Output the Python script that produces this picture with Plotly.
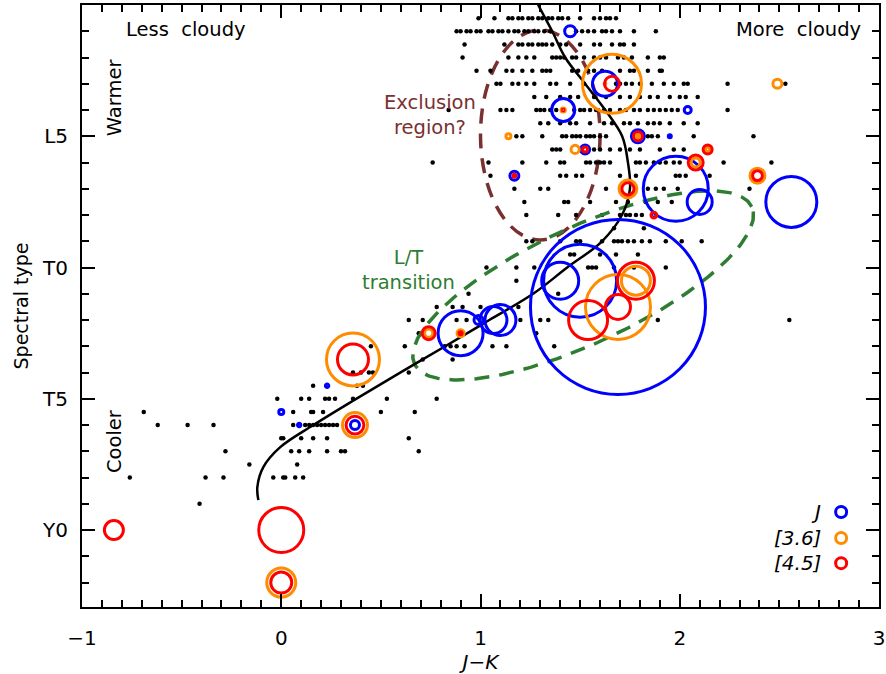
import numpy as np
import plotly.graph_objects as go

# ---------------- field brown dwarfs: J-K values per spectral-type row ----------------
# spectral type numbering: L0=0, L5=5, T0=10, T5=15, Y0=20
r00_5 = [0.99, 1.07, 1.14, 1.16, 1.19, 1.21, 1.24, 1.26, 1.29, 1.31, 1.34, 1.36, 1.39, 1.41, 1.44, 1.50, 1.57, 1.60, 1.63, 1.65, 1.68]
r01_0 = [0.88, 0.90, 0.93, 0.95, 0.98, 1.00, 1.04, 1.06, 1.09, 1.11, 1.14, 1.17, 1.19, 1.22, 1.24, 1.27, 1.29, 1.32, 1.35, 1.48, 1.51, 1.54, 1.57, 1.61, 1.63, 1.66, 1.70, 1.77, 1.88]
r01_5 = [0.92, 1.12, 1.19, 1.21, 1.24, 1.26, 1.29, 1.31, 1.33, 1.36, 1.40, 1.43, 1.50, 1.57, 1.60, 1.66, 1.70, 1.72, 1.77]
r02_0 = [0.91, 1.14, 1.19, 1.23, 1.27, 1.36, 1.38, 1.40, 1.42, 1.46, 1.48, 1.52, 1.57, 1.60, 1.63, 1.69, 1.72, 1.76, 1.84, 1.90, 1.92]
r02_5 = [0.98, 1.05, 1.13, 1.16, 1.21, 1.26, 1.31, 1.33, 1.35, 1.46, 1.49, 1.54, 1.57, 1.61, 1.70, 1.75, 1.77, 1.84, 1.90, 1.91]
r03_0 = [1.08, 1.10, 1.16, 1.19, 1.23, 1.27, 1.35, 1.38, 1.45, 1.52, 1.68, 1.70, 1.73, 1.76, 1.80, 1.86, 1.92, 1.97, 2.02, 2.04, 2.24, 2.53]
r03_5 = [1.27, 1.33, 1.40, 1.45, 1.49, 1.57, 1.63, 1.70, 1.75, 1.80, 1.85, 1.89, 1.95, 2.00, 2.03, 2.09]
r04_0 = [0.84, 1.10, 1.13, 1.16, 1.28, 1.30, 1.32, 1.35, 1.38, 1.47, 1.50, 1.52, 1.55, 1.58, 1.62, 1.65, 1.70, 1.73, 1.77, 1.80, 1.84, 1.87, 1.90, 1.93, 1.96, 1.99, 2.24]
r04_5 = [1.30, 1.34, 1.40, 1.45, 1.48, 1.55, 1.62, 1.66, 1.72, 1.75, 1.79, 1.84, 1.87, 1.90, 1.95, 2.02, 2.09]
r05_0 = [1.18, 1.21, 1.31, 1.41, 1.43, 1.46, 1.48, 1.50, 1.53, 1.55, 1.57, 1.60, 1.63, 1.84, 1.86, 1.89, 2.07, 2.37]
r05_5 = [1.36, 1.38, 1.40, 1.57, 1.60, 1.65, 1.70, 1.75, 1.80, 1.90, 1.97, 2.02]
r06_0 = [0.76, 1.04, 1.21, 1.33, 1.40, 1.42, 1.53, 1.55, 1.58, 1.60, 1.62, 1.65, 1.78, 1.80, 1.83, 1.87, 1.90, 1.93, 1.97, 2.00, 2.22, 2.46]
r06_5 = [1.05, 1.40, 1.43, 1.48, 1.51, 1.70, 1.78, 1.98, 2.00, 2.03, 2.15]
r07_0 = [1.17, 1.30, 1.34, 1.63, 1.84, 1.88, 1.92, 1.99, 2.35]
r07_5 = [1.22, 1.42, 1.44, 1.55, 1.68, 1.74, 1.83, 1.89, 1.96]
r08_0 = [1.23, 1.39, 1.48, 1.61, 1.70, 1.73, 1.75, 1.78, 1.81]
r08_5 = [1.67, 1.82]
r09_0 = [1.23, 1.26, 1.40, 1.48, 1.50, 1.61, 1.67, 1.69, 1.71, 1.74, 1.77, 1.81, 1.85, 1.93, 2.01, 2.11]
r09_5 = [1.45, 1.47, 1.60, 1.68, 1.79]
r10_0 = [1.03, 1.18, 1.27, 1.54, 1.56, 1.58, 1.67, 1.77, 1.93]
r10_5 = [1.18]
r11_0 = [0.94, 1.39]
r11_5 = [0.78, 0.86, 0.91, 1.00, 1.19]
r12_0 = [0.64, 0.71, 0.88, 0.93, 1.20, 1.30, 1.34, 1.89, 2.55]
r12_5 = [0.69, 1.28]
r13_0 = [0.45, 0.62, 0.82, 0.85, 0.88, 0.92, 1.06, 1.13, 1.37]
r13_5 = [0.71, 0.86]
r14_0 = [0.36, 0.40, 0.44, 0.46, 0.64]
r14_5 = [0.16, 0.38, 0.41]
r15_0 = [-0.02, 0.10, 0.14, 0.22, 0.24, 0.27, 0.36, 0.53, 0.78]
r15_5 = [-0.69, 0.06, 0.15, 0.16, 0.21, 0.50, 0.67]
r16_0 = [-0.62, -0.47, -0.34, 0.06, 0.12, 0.14, 0.16, 0.18, 0.20, 0.22, 0.24, 0.26, 0.28]
r16_5 = [0.00, 0.01, 0.10, 0.16, 0.23, 0.64]
r17_0 = [-0.28, 0.05, 0.09, 0.14, 0.23, 0.30, 0.32, 0.69]
r17_5 = [-0.16, 0.08]
r18_0 = [-0.76, -0.38, -0.29, -0.04, 0.01, 0.02, 0.07, 0.11]
r19_0 = [-0.41]

row_spt = [0.5, 1.0, 1.5, 2.0, 2.5, 3.0, 3.5, 4.0, 4.5, 5.0, 5.5, 6.0, 6.5, 7.0, 7.5, 8.0,
           8.5, 9.0, 9.5, 10.0, 10.5, 11.0, 11.5, 12.0, 12.5, 13.0, 13.5, 14.0, 14.5, 15.0,
           15.5, 16.0, 16.5, 17.0, 17.5, 18.0, 19.0]
row_jk = [r00_5, r01_0, r01_5, r02_0, r02_5, r03_0, r03_5, r04_0, r04_5, r05_0, r05_5, r06_0,
          r06_5, r07_0, r07_5, r08_0, r08_5, r09_0, r09_5, r10_0, r10_5, r11_0, r11_5, r12_0,
          r12_5, r13_0, r13_5, r14_0, r14_5, r15_0, r15_5, r16_0, r16_5, r17_0, r17_5, r18_0, r19_0]

# ---------------- variable objects (amplitudes in %, None = not measured) ----------------
obj_jk  = [1.45, 1.625, 1.66, 1.415, 1.14, 1.475, 1.525, 1.79, 1.95, 2.04, 2.49, 2.14, 2.08,
           1.98, 2.10, 2.39, 2.56, 1.74, 1.87, 1.17, 1.69, 1.50, 1.40, 1.78, 1.54, 1.10,
           1.065, 0.99, 0.90, 0.74, 0.36, 0.37, 0.23, 0.0, 0.09, -0.84, 0.0, 0.0]
obj_spt = [1.0, 3.0, 3.0, 4.0, 5.0, 5.5, 5.5, 5.0, 5.0, 4.0, 3.0, 5.5, 6.0,
           7.0, 7.5, 6.5, 7.5, 7.0, 8.0, 6.5, 11.5, 10.5, 10.5, 10.5, 12.0, 12.0,
           12.0, 12.0, 12.5, 12.5, 13.5, 16.0, 14.5, 15.5, 16.0, 20.0, 20.0, 22.0]
amp_J   = [1.75, 3.5, None, 3.25, None, None, 1.5, 2.0, 0.75, 1.25, None, None, None,
           8.5, 3.5, None, 6.75, None, 0.5, 1.5, 22.25, 9.5, 5.0, None, None, 4.25,
           3.75, 1.5, 6.0, None, None, 1.5, 0.8, 1.0, 0.8, None, None, None]
amp_36  = [None, 0.6, 7.75, 0.9, 1.0, 1.4, None, 0.75, None, None, 1.5, 0.9, 1.5,
           None, None, 2.25, None, 2.6, None, None, 8.5, None, None, 4.0, None, None,
           None, None, 1.25, 1.4, 7.0, 3.5, None, None, None, None, None, 4.0]
amp_45  = [None, None, 2.25, 0.5, None, None, 1.0, 1.5, None, None, None, 1.5, 2.25,
           None, None, 1.6, None, 1.9, 1.1, 0.75, 3.5, None, None, 5.0, 5.25, None,
           None, None, 0.75, 2.0, 4.25, 2.6, None, None, None, 2.75, 6.0, 3.0]

# ---------------- polynomial trend (J-K vs spectral type) ----------------
fit_spt = [-0.5, 0, 1, 2, 3, 4, 5, 6, 7, 8, 9, 10, 11, 12, 13, 14, 15, 16, 16.84, 17.6, 18.36, 18.86]
fit_jk  = [1.26, 1.29, 1.36, 1.425, 1.525, 1.626, 1.711, 1.74, 1.75, 1.71, 1.61, 1.435, 1.264,
           1.044, 0.823, 0.597, 0.376, 0.161, -0.005, -0.09, -0.12, -0.115]

tick_vals = [0, 5, 10, 15, 20]
tick_text = ["L0", "L5", "T0", "T5", "Y0"]
band_names = ["<i>J</i>", "<i>[3.6]</i>", "<i>[4.5]</i>"]

# ---------------- styling / layout geometry ----------------
W, H = 886, 674
ML, MR, MT, MB = 82, 7, 5, 67
XR = [-1, 3]
YR = [22.93, 0]
SX = (W - ML - MR) / (XR[1] - XR[0])       # px per J-K unit
SY = (H - MT - MB) / (YR[0] - YR[1])       # px per subtype
R_PER_AMP = 4.0                              # circle radius (px) per % amplitude
LW = 3
BLUE, ORANGE, RED = "#0000ff", "#ff8c00", "#ff0000"
GREEN, BROWN = "#2e7d32", "#7a3030"
FONT = "DejaVu Sans"

fig = go.Figure()

# field objects
dx, dy = [], []
for s, row in zip(row_spt, row_jk):
    dx += row
    dy += [s] * len(row)
fig.add_trace(go.Scatter(x=dx, y=dy, mode="markers",
                         marker=dict(size=4.5, color="black", opacity=1), hoverinfo="skip"))

# L/T transition ellipse (tilted, defined in screen space)
lt_c = (1.515, 10.68)
a_px, b_px, ang = 186, 58, np.deg2rad(25)
t = np.linspace(0, 2 * np.pi, 240)
ex = a_px * np.cos(t) * np.cos(ang) - b_px * np.sin(t) * np.sin(ang)
ey = a_px * np.cos(t) * np.sin(ang) + b_px * np.sin(t) * np.cos(ang)
fig.add_trace(go.Scatter(x=lt_c[0] + ex / SX, y=lt_c[1] - ey / SY, mode="lines",
                         line=dict(color=GREEN, width=3.5, dash="15px,10px"), hoverinfo="skip"))

# exclusion region ellipse
ex_c, ex_a, ex_b = (1.30, 4.95), 0.30, 4.0
fig.add_shape(type="circle", xref="x", yref="y",
              x0=ex_c[0] - ex_a, x1=ex_c[0] + ex_a, y0=ex_c[1] - ex_b, y1=ex_c[1] + ex_b,
              line=dict(color=BROWN, width=3.5, dash="15px,10px"), layer="below")

# trend curve
fig.add_trace(go.Scatter(x=fit_jk, y=fit_spt, mode="lines",
                         line=dict(color="black", width=2.5, shape="spline"), hoverinfo="skip"))

# variability circles
for amps, col in [(amp_J, BLUE), (amp_36, ORANGE), (amp_45, RED)]:
    xs, ys, ss = [], [], []
    for xj, yj, a in zip(obj_jk, obj_spt, amps):
        if a is None:
            continue
        xs.append(xj)
        ys.append(yj)
        ss.append(max(2 * (R_PER_AMP * a) - LW, 1.5))
    fig.add_trace(go.Scatter(x=xs, y=ys, mode="markers", hoverinfo="skip",
                             marker=dict(symbol="circle-open", size=ss, color=col, opacity=1,
                                         line=dict(width=LW, color=col))))

# legend (text left of symbol)
leg_x_txt, leg_x_sym = 2.72, 2.81
leg_y = [19.31, 20.30, 21.26]
fig.add_trace(go.Scatter(x=[leg_x_sym] * 3, y=leg_y, mode="markers", hoverinfo="skip",
                         marker=dict(symbol="circle-open", size=11, color=[BLUE, ORANGE, RED],
                                     opacity=1, line=dict(width=LW, color=[BLUE, ORANGE, RED]))))
for nm, yy in zip(band_names, leg_y):
    fig.add_annotation(x=leg_x_txt, y=yy, text=nm, showarrow=False, xanchor="right",
                       yanchor="middle", font=dict(size=20, family=FONT, color="black"))

# labels
ann = [
    dict(x=-0.48, y=0.95, text="Less  cloudy", color="black", angle=0),
    dict(x=2.595, y=0.95, text="More  cloudy", color="black", angle=0),
    dict(x=-0.833, y=3.5, text="Warmer", color="black", angle=-90),
    dict(x=-0.833, y=16.6, text="Cooler", color="black", angle=-90),
    dict(x=0.748, y=4.2, text="Exclusion<br>region?", color=BROWN, angle=0),
    dict(x=0.637, y=10.1, text="L/T<br>transition", color=GREEN, angle=0),
]
for a in ann:
    fig.add_annotation(x=a["x"], y=a["y"], text=a["text"], showarrow=False,
                       textangle=a["angle"], xanchor="center", yanchor="middle",
                       font=dict(size=19.5, family=FONT, color=a["color"]))

axis_common = dict(showline=True, linewidth=2, linecolor="black", mirror="ticks",
                   ticks="inside", ticklen=13, tickwidth=2, tickcolor="black",
                   showgrid=False, zeroline=False, automargin=False,
                   tickfont=dict(size=20, family=FONT, color="black"))
fig.update_xaxes(range=XR, tickvals=[-1, 0, 1, 2, 3], ticklabelstandoff=12,
                 minor=dict(dtick=0.1, tick0=0, ticks="inside", ticklen=7, tickwidth=1.5,
                            tickcolor="black", showgrid=False),
                 title=dict(text="<i>J</i>−<i>K</i>", font=dict(size=20, family=FONT), standoff=6),
                 **axis_common)
fig.update_yaxes(range=YR, tickvals=tick_vals, ticktext=tick_text, ticklabelstandoff=8,
                 minor=dict(dtick=1, tick0=0, ticks="inside", ticklen=7, tickwidth=1.5,
                            tickcolor="black", showgrid=False),
                 title=dict(text="Spectral type", font=dict(size=19, family=FONT), standoff=8),
                 **axis_common)
fig.update_layout(width=W, height=H, margin=dict(l=ML, r=MR, t=MT, b=MB, autoexpand=False),
                  plot_bgcolor="white", paper_bgcolor="white", showlegend=False,
                  font=dict(family=FONT, color="black"))

fig.write_html("out.html", config={"displayModeBar": False},
               post_script="document.body.style.margin='0px';")
